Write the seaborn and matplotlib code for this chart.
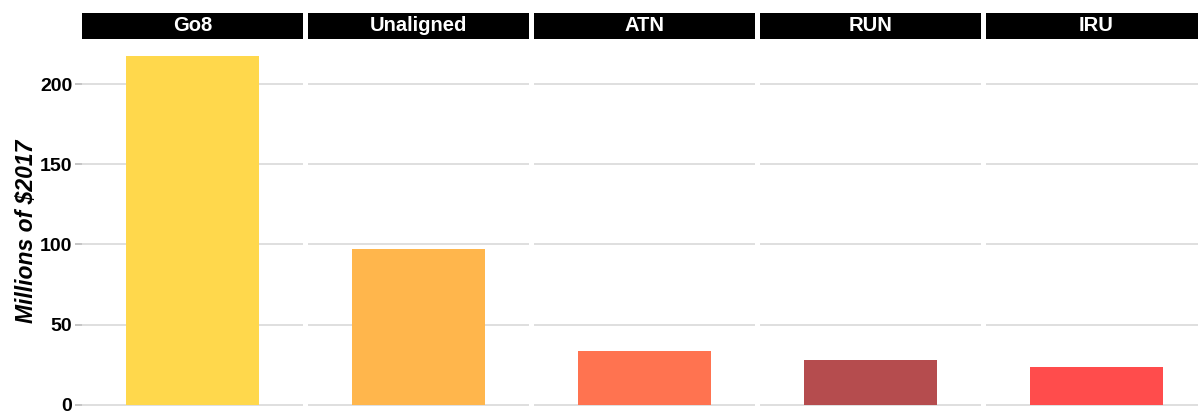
import matplotlib
matplotlib.use("Agg")
import matplotlib.pyplot as plt
import seaborn as sns
import pandas as pd
from matplotlib.patches import Rectangle

groups = ["Go8", "Unaligned", "ATN", "RUN", "IRU"]
values = [217.5, 97.2, 33.7, 27.8, 23.7]
colors = ["#FFD84C", "#FFB64C", "#FF7350", "#B54C4E", "#FF4C4C"]
yticks = [0, 50, 100, 150, 200]
ylabel = "Millions of $2017"

sns.set_theme(style="white")
plt.rcParams["font.family"] = ["Liberation Sans", "DejaVu Sans"]

df = pd.DataFrame({"group": groups, "value": values})

W, H = 1198, 412
fig = plt.figure(figsize=(W / 100, H / 100), dpi=100)

panel_w = 221
gap = 5
x0 = 82
y_top = 38.6
y_bot = 422.4
ymin, ymax = -10.87, 228.3

for i, (g, c) in enumerate(zip(groups, colors)):
    left = x0 + i * (panel_w + gap)
    ax = fig.add_axes([left / W, 1 - y_bot / H, panel_w / W, (y_bot - y_top) / H])
    sub = df[df["group"] == g]
    sns.barplot(data=sub, x="group", y="value", color=c, width=0.72, ax=ax,
                saturation=1, edgecolor="none", zorder=3)
    ax.set_xlim(-0.6, 0.6)
    ax.set_ylim(ymin, ymax)
    ax.set_yticks(yticks)
    ax.grid(axis="y", color="#DCDCDC", linewidth=1.3, zorder=0)
    ax.grid(axis="x", visible=False)
    for s in ax.spines.values():
        s.set_visible(False)
    ax.set_xlabel("")
    ax.set_xticks([])
    if i == 0:
        ax.set_ylabel(ylabel, fontsize=16.5, fontweight="bold", fontstyle="italic",
                      color="black")
        ax.yaxis.set_label_coords((38 - x0) / panel_w,
                                  (y_bot - 231) / (y_bot - y_top))
        ax.tick_params(axis="y", left=True, length=5, width=1.2, color="#BBBBBB",
                       labelsize=14, labelcolor="black", pad=2)
        for t in ax.get_yticklabels():
            t.set_fontweight("bold")
    else:
        ax.set_ylabel("")
        ax.tick_params(axis="y", left=False, labelleft=False)
    strip_h = 26 / (y_bot - y_top)
    ax.add_patch(Rectangle((0, 1.0), 1, strip_h, transform=ax.transAxes,
                           facecolor="black", edgecolor="none", clip_on=False))
    ax.text(0.5, 1.0 + strip_h / 2, g, transform=ax.transAxes, ha="center",
            va="center", color="white", fontsize=14.5, fontweight="bold")

fig.savefig("out.png", dpi=100)
